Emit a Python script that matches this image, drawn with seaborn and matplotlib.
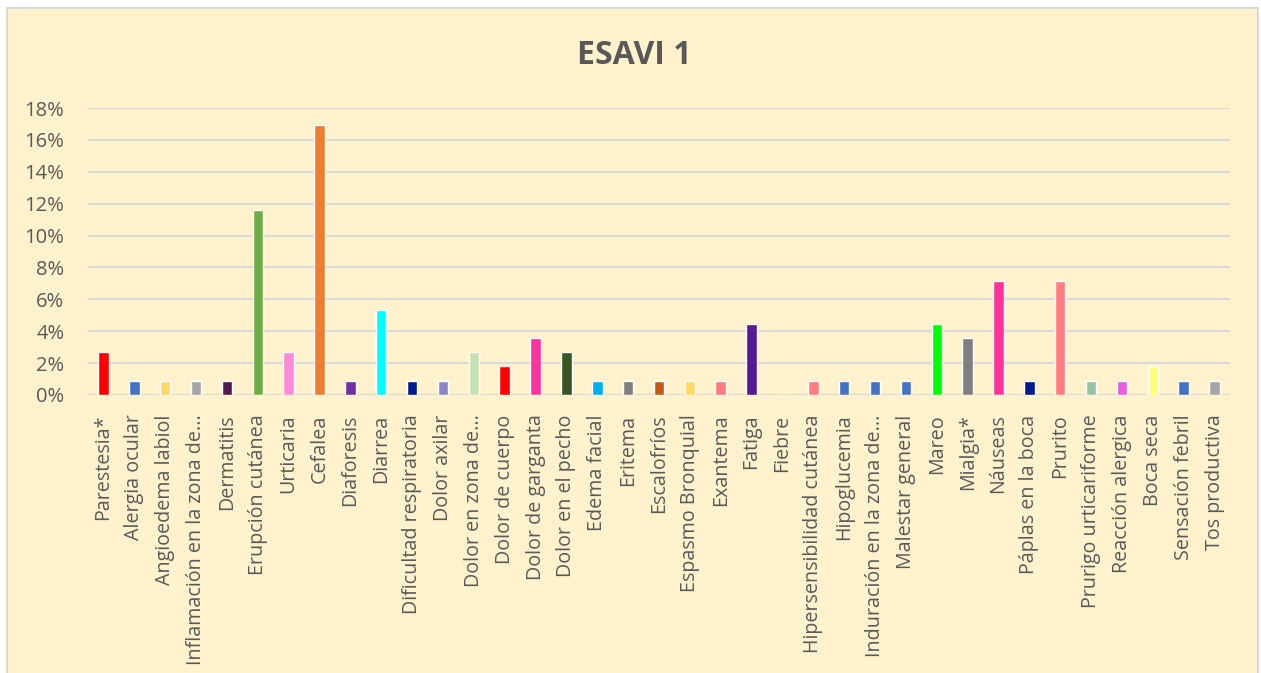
import pandas as pd
import seaborn as sns
import matplotlib.pyplot as plt
from matplotlib.patches import Rectangle
from matplotlib.ticker import PercentFormatter

# Datos del gráfico
sintomas = [
    'Parestesia*', 'Alergia ocular', 'Angioedema labiol', 'Inflamación en la zona de...',
    'Dermatitis', 'Erupción cutánea', 'Urticaria', 'Cefalea', 'Diaforesis', 'Diarrea',
    'Dificultad respiratoria', 'Dolor axilar', 'Dolor en zona de...', 'Dolor de cuerpo',
    'Dolor de garganta', 'Dolor en el pecho', 'Edema facial', 'Eritema', 'Escalofríos',
    'Espasmo Bronquial', 'Exantema', 'Fatiga', 'Fiebre', 'Hipersensibilidad cutánea',
    'Hipoglucemia', 'Induración en la zona de...', 'Malestar general', 'Mareo', 'Mialgia*',
    'Náuseas', 'Páplas en la boca', 'Prurito', 'Prurigo urticariforme', 'Reacción alergica',
    'Boca seca', 'Sensación febril', 'Tos productiva',
]
porcentajes = [
    2.68, 0.89, 0.89, 0.89, 0.89, 11.61, 2.68, 16.96, 0.89, 5.36,
    0.89, 0.89, 2.68, 1.79, 3.57, 2.68, 0.89, 0.89, 0.89, 0.89,
    0.89, 4.46, 0.0, 0.89, 0.89, 0.89, 0.89, 4.46, 3.57, 7.14,
    0.89, 7.14, 0.89, 0.89, 1.79, 0.89, 0.89,
]
colores = [
    '#FF0000', '#4472C4', '#FFD966', '#A5A5A5', '#521A55', '#70AD47', '#FF8AD8', '#ED7D31',
    '#7030A0', '#00FFFF', '#001A8F', '#8B86C8', '#C5E0B4', '#FF0000', '#FF3399', '#375623',
    '#00B0F0', '#808080', '#C55A11', '#FFD966', '#FF7C80', '#551A94', '#FFFFFF', '#FF7C80',
    '#4472C4', '#4472C4', '#4472C4', '#00FF00', '#7F7F7F', '#FF3399', '#001A8F', '#FF7C80',
    '#93C4A4', '#EA5CDF', '#FFFF79', '#4472C4', '#A5A5A5',
]

df = pd.DataFrame({'sintoma': sintomas, 'valor': porcentajes})

fondo = '#FFF2CC'
gris = '#595959'

sns.set_style('white')
plt.rcParams['font.family'] = ['Open Sans', 'DejaVu Sans']

fig = plt.figure(figsize=(12.61, 6.73), dpi=100)
fig.patch.set_facecolor('white')
fig.add_artist(Rectangle((7 / 1261, -0.01), 1251 / 1261, 1 - 8 / 673 + 0.01,
                         transform=fig.transFigure, facecolor=fondo,
                         edgecolor='#D9D9D9', linewidth=1.5, zorder=-10))

ax = fig.add_axes([88 / 1261, 1 - 395 / 673, (1230 - 88) / 1261, (395 - 108) / 673])
ax.set_facecolor(fondo)

sns.barplot(data=df, x='sintoma', y='valor', hue='sintoma', palette=colores,
            width=0.34, legend=False, saturation=1, ax=ax, zorder=3)

ax.set_ylim(0, 18)
ax.set_yticks(range(0, 19, 2))
ax.yaxis.set_major_formatter(PercentFormatter(decimals=0))
ax.set_xlim(-0.5, len(sintomas) - 0.5)
ax.grid(axis='y', color='#D9D9D9', linewidth=1.5, zorder=0)
ax.set_axisbelow(True)
for lado in ['top', 'right', 'left', 'bottom']:
    ax.spines[lado].set_visible(False)
ax.axhline(0, color='#D9D9D9', linewidth=1.5, zorder=2)

ax.set_xlabel('')
ax.set_ylabel('')
ax.tick_params(axis='x', length=0, pad=14, labelsize=14.2, labelcolor=gris)
ax.tick_params(axis='y', length=0, pad=17, labelsize=14.5, labelcolor=gris)
plt.setp(ax.get_xticklabels(), rotation=90, va='top', ha='center')

fig.text(634 / 1261, 1 - 55 / 673, 'ESAVI 1', ha='center', va='center',
         fontsize=23, fontweight='bold', color=gris)

fig.savefig('out.png', dpi=100, facecolor=fig.get_facecolor())
